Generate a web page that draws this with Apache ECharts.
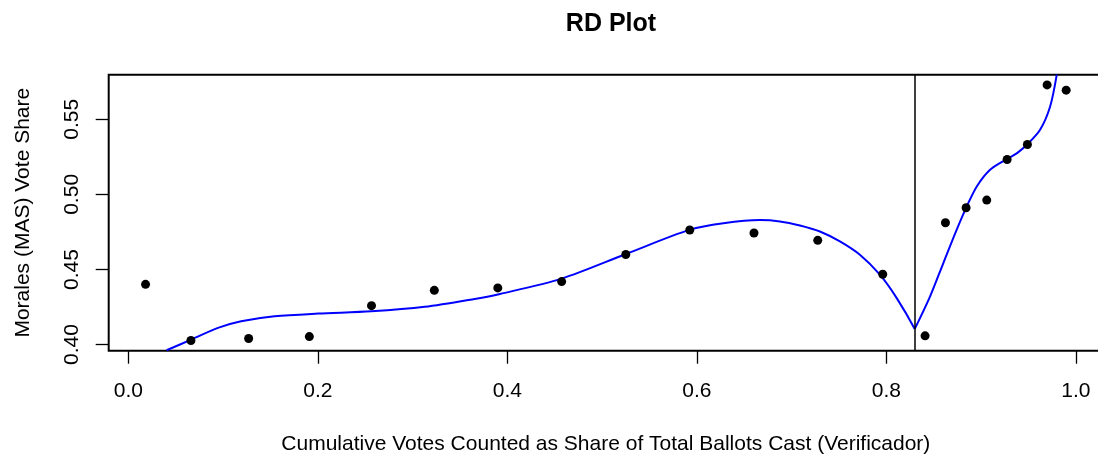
<!DOCTYPE html>
<html>
<head>
<meta charset="utf-8">
<script src="https://cdn.jsdelivr.net/npm/echarts@6/dist/echarts.min.js"></script>
<style>
html,body{margin:0;padding:0;background:#fff;}
#chart{width:1098px;height:455px;}
</style>
</head>
<body>
<div id="chart"></div>
<script>
// Binned means (x = cumulative share counted, y = MAS vote share)
const binX = [0.0181, 0.0660, 0.1269, 0.1910, 0.2566, 0.3229, 0.3899, 0.4573, 0.5250, 0.5925, 0.6603, 0.7276, 0.7962,
              0.8409, 0.8624, 0.8842, 0.9060, 0.9275, 0.9489, 0.9697, 0.9898];
const binY = [0.4401, 0.4027, 0.4040, 0.4053, 0.4259, 0.4361, 0.4377, 0.4419, 0.4600, 0.4763, 0.4743, 0.4694, 0.4468,
              0.4058, 0.4811, 0.4911, 0.4962, 0.5232, 0.5332, 0.5729, 0.5694];
// Fitted curve, left of cutoff
const fitLeftX = [0.0403, 0.0663, 0.0945, 0.1190, 0.1543, 0.2001, 0.2564, 0.3127, 0.3655, 0.3922, 0.4573, 0.5252, 0.5928,
                  0.6280, 0.6667, 0.6877, 0.7088, 0.7299, 0.7510, 0.7721, 0.7932, 0.8108, 0.8300];
const fitLeftY = [0.3962, 0.4033, 0.4111, 0.4155, 0.4188, 0.4206, 0.4221, 0.4251, 0.4304, 0.4337, 0.4439, 0.4603, 0.4765,
                  0.4808, 0.4829, 0.4820, 0.4793, 0.4753, 0.4687, 0.4598, 0.4465, 0.4311, 0.4104];
// Fitted curve, right of cutoff
const fitRightX = [0.8300, 0.8462, 0.8602, 0.8743, 0.8849, 0.8955, 0.9095, 0.9272, 0.9380, 0.9483, 0.9623, 0.9729, 0.9799];
const fitRightY = [0.4104, 0.4321, 0.4543, 0.4765, 0.4920, 0.5053, 0.5164, 0.5235, 0.5275, 0.5330, 0.5430, 0.5585, 0.5797];
const cutoff = 0.83;
const xTicks = [0, 0.2, 0.4, 0.6, 0.8, 1.0];
const yTicks = [0.40, 0.45, 0.50, 0.55];

const FONT = '"Liberation Sans", Arial, Helvetica, sans-serif';
const zip = (a, b) => a.map((v, i) => [v, b[i]]);

const chart = echarts.init(document.getElementById('chart'), null, {renderer: 'canvas'});
chart.setOption({
  animation: false,
  backgroundColor: '#ffffff',
  title: {
    text: 'RD Plot',
    left: 606, top: 7, textAlign: 'center',
    textStyle: {fontFamily: FONT, fontSize: 25, fontWeight: 'bold', color: '#000'}
  },
  grid: {
    left: 108.7, top: 74.7, width: 994.3, height: 276,
    containLabel: false, outerBoundsMode: 'none',
    show: true, borderColor: '#000', borderWidth: 2, backgroundColor: 'transparent'
  },
  xAxis: {
    type: 'value', min: -0.0208, max: 1.0287,
    name: 'Cumulative Votes Counted as Share of Total Ballots Cast (Verificador)',
    nameLocation: 'middle', nameGap: 83,
    nameTextStyle: {fontFamily: FONT, fontSize: 21, color: '#000'},
    axisLine: {show: false, onZero: false},
    axisTick: {show: true, inside: false, length: 13, customValues: xTicks, lineStyle: {color: '#000', width: 1.3}},
    axisLabel: {show: true, margin: 30, customValues: xTicks, fontFamily: FONT, fontSize: 21, color: '#000',
      formatter: v => v.toFixed(1)},
    splitLine: {show: false}
  },
  yAxis: {
    type: 'value', min: 0.3959, max: 0.5797,
    name: 'Morales (MAS) Vote Share',
    nameLocation: 'middle', nameGap: 75, nameRotate: 90,
    nameTextStyle: {fontFamily: FONT, fontSize: 21, color: '#000'},
    axisLine: {show: false, onZero: false},
    axisTick: {show: true, inside: false, length: 13, customValues: yTicks, lineStyle: {color: '#000', width: 1.3}},
    axisLabel: {show: true, margin: 26, rotate: 90, customValues: yTicks, fontFamily: FONT, fontSize: 21, color: '#000',
      formatter: v => v.toFixed(2)},
    splitLine: {show: false}
  },
  series: [
    {
      type: 'line', data: zip(fitLeftX, fitLeftY), smooth: 0.3, showSymbol: false, symbol: 'none',
      lineStyle: {color: '#0000ff', width: 2}, clip: true, z: 3
    },
    {
      type: 'line', data: zip(fitRightX, fitRightY), smooth: 0.3, showSymbol: false, symbol: 'none',
      lineStyle: {color: '#0000ff', width: 2}, clip: true, z: 3
    },
    {
      type: 'scatter', data: zip(binX, binY), symbol: 'circle', symbolSize: 9,
      itemStyle: {color: '#000', opacity: 1}, z: 4,
      markLine: {
        silent: true, symbol: ['none', 'none'], label: {show: false},
        lineStyle: {color: '#000', width: 1.5, type: 'solid', opacity: 1},
        data: [{xAxis: cutoff}]
      }
    }
  ]
});
</script>
</body>
</html>
